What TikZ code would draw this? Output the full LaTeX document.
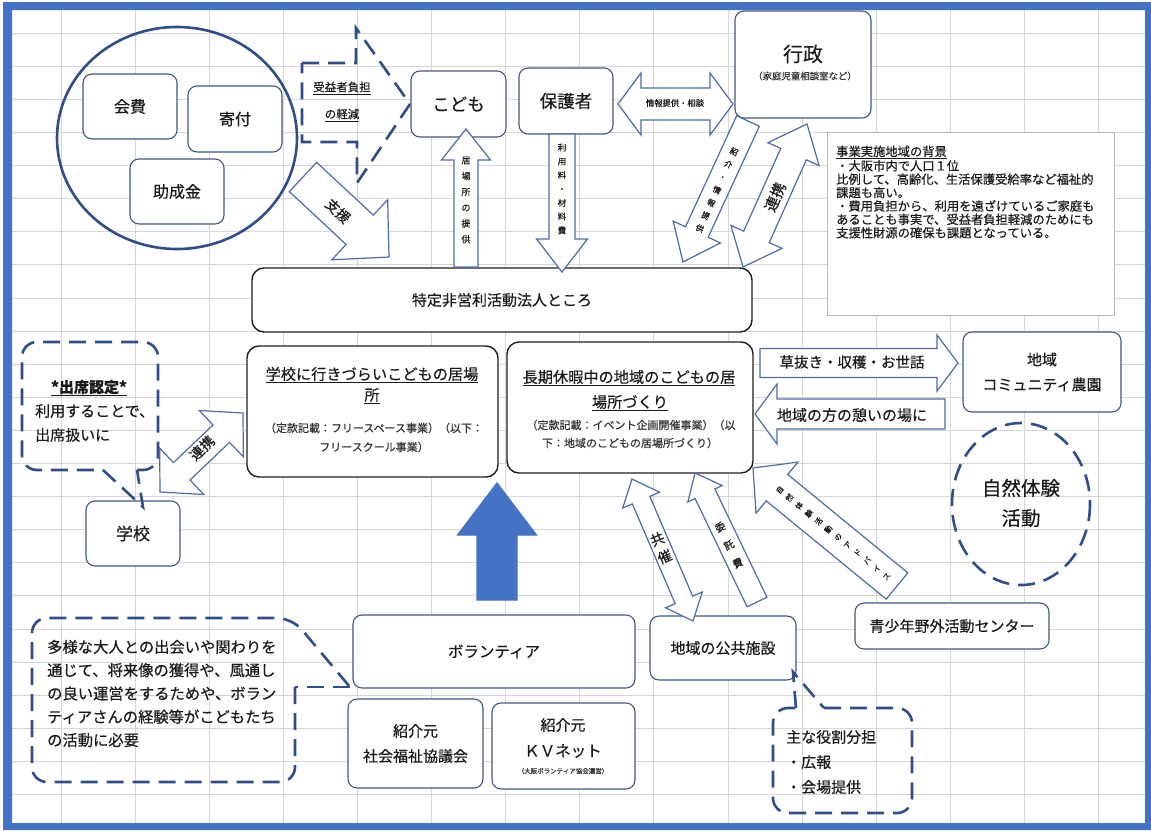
\documentclass[tikz,border=0pt]{standalone}
\usepackage{fontspec}
\setmainfont{Noto Sans CJK JP}[FakeBold=0.35]
\usetikzlibrary{calc}
\definecolor{frameblue}{HTML}{4472C4}
\definecolor{gridc}{HTML}{D6D6D6}
\definecolor{boxline}{HTML}{41587E}
\definecolor{arrline}{HTML}{4D6CA6}
\definecolor{dashc}{HTML}{2F4D8A}
\definecolor{txtc}{HTML}{1A1A1A}
\definecolor{subtxt}{HTML}{333333}
\newcommand\fsz[2]{\fontsize{#1}{#2}\selectfont}
\tikzset{
 rbox/.style={draw=boxline, line width=1.1pt, fill=white, rounded corners=9pt, inner sep=0pt, text=txtc},
 kbox/.style={draw=black!88, line width=1.4pt, fill=white, rounded corners=12pt, inner sep=0pt, text=txtc},
 blockarrow/.style={draw=arrline, line width=1.2pt, fill=white},
 dashline/.style={draw=dashc, line width=2.6pt, dash pattern=on 17pt off 9pt},
 txt/.style={inner sep=0pt, text=txtc},
 gridline/.style={gridc, line width=0.8pt},
}
% single block arrow: [opts]{from}{to}{body half width}{head half width}{head length}
\newcommand\sarrow[6][]{%
  \coordinate (sah) at ($(#3)!#6!(#2)$);
  \draw[blockarrow,#1] ($(#2)!#4!90:(#3)$) -- ($(sah)!#4!90:(#3)$) -- ($(sah)!#5!90:(#3)$) -- (#3)
    -- ($(sah)!#5!-90:(#3)$) -- ($(sah)!#4!-90:(#3)$) -- ($(#2)!#4!-90:(#3)$) -- cycle;}
% double block arrow
\newcommand\darrow[6][]{%
  \coordinate (dah1) at ($(#2)!#6!(#3)$);
  \coordinate (dah2) at ($(#3)!#6!(#2)$);
  \draw[blockarrow,#1] (#2) -- ($(dah1)!#5!90:(#3)$) -- ($(dah1)!#4!90:(#3)$) -- ($(dah2)!#4!90:(#3)$)
    -- ($(dah2)!#5!90:(#3)$) -- (#3) -- ($(dah2)!#5!-90:(#3)$) -- ($(dah2)!#4!-90:(#3)$)
    -- ($(dah1)!#4!-90:(#3)$) -- ($(dah1)!#5!-90:(#3)$) -- cycle;}
\begin{document}
\begin{tikzpicture}[x=1pt,y=-1pt]
\useasboundingbox (0,0) rectangle (1151,830);
\fill[white] (0,0) rectangle (1151,830);
% grid
\foreach \k in {0,...,14} \draw[gridline] ({61+74.1*\k},10) -- ({61+74.1*\k},823);
\foreach \k in {1,...,24} \draw[gridline] (12,{33.1*\k}) -- (1145,{33.1*\k});

% funding circle
\draw[draw=dashc, line width=2.6pt] (177,138) ellipse [x radius=120, y radius=111];
\node[rbox, minimum width=94pt, minimum height=65pt, font=\fsz{16}{19}] (kaihi) at (130,106.5) {会費};
\node[rbox, minimum width=94pt, minimum height=66pt, font=\fsz{16}{19}] (kifu) at (235,119) {寄付};
\node[rbox, minimum width=94pt, minimum height=65pt, font=\fsz{16}{19}] (joseikin) at (177,191.5) {助成金};

% dashed arrow
\draw[dashline] (302,63) -- (356,63) -- (356,28) -- (410,104) -- (357,183) -- (357,142) -- (302,142) -- cycle;
\node[txt, font=\fsz{11.5}{14}] (jueki1) at (342,88) {\underline{受益者負担}};
\node[txt, font=\fsz{11.5}{14}] (jueki2) at (342,115) {\underline{の軽減}};

% top boxes
\node[rbox, minimum width=95pt, minimum height=66pt, font=\fsz{17.5}{20}] (kodomo) at (458.5,104) {こども};
\node[rbox, minimum width=94pt, minimum height=66pt, font=\fsz{17.5}{20}] (hogosha) at (566,101) {保護者};
\node[rbox, minimum width=136pt, minimum height=107pt] (gyosei) at (803,64.5) {};
\node[txt, font=\fsz{20}{22}] (gyoseiT) at (803,54) {行政};
\node[txt, text=subtxt, font=\fsz{9.4}{11}] (gyoseiS) at (805,76) {（家庭児童相談室など）};

% background text box
\node[draw=black!28, line width=0.8pt, fill=white, minimum width=287pt, minimum height=183pt, inner sep=0pt] (haikei) at (970.5,223.5) {};
\node[txt, anchor=north west, align=left, font=\fsz{12.3}{13.4}] (haikeiT) at (836,145.5)
 {\underline{事業実施地域の背景}\\・大阪市内で人口１位\\比例して、高齢化、生活保護受給率など福祉的\\課題も高い。\\・費用負担から、利用を遠ざけているご家庭も\\あることも事実で、受益者負担軽減のためにも\\支援性財源の確保も課題となっている。};

% NPO box
\node[kbox, minimum width=500pt, minimum height=64pt, font=\fsz{15}{18}] (tokutei) at (502,300) {特定非営利活動法人ところ};

% program boxes
\node[kbox, minimum width=251pt, minimum height=131pt] (gakkoib) at (372.5,411.5) {};
\node[txt, font=\fsz{15.2}{18}] (gi1) at (372,375) {\underline{学校に行きづらいこどもの居場}};
\node[txt, font=\fsz{15.2}{18}] (gi2) at (372,396) {\underline{所}};
\node[txt, text=subtxt, font=\fsz{11}{13}] (gi3) at (374,428) {（定款記載：フリースペース事業）（以下：};
\node[txt, text=subtxt, font=\fsz{11}{13}] (gi4) at (374,447) {フリースクール事業）};

\node[kbox, minimum width=246pt, minimum height=131pt] (choki) at (630,407.5) {};
\node[txt, font=\fsz{15.2}{18}] (ch1) at (629,378) {\underline{長期休暇中の地域のこどもの居}};
\node[txt, font=\fsz{15.2}{18}] (ch2) at (630,403) {\underline{場所づくり}};
\node[txt, text=subtxt, font=\fsz{11}{13}] (ch3) at (631,425) {（定款記載：イベント企画開催事業）（以};
\node[txt, text=subtxt, font=\fsz{11}{13}] (ch4) at (630,443) {下：地域のこどもの居場所づくり）};

% right side
\node[rbox, minimum width=158pt, minimum height=80pt, align=center, font=\fsz{15}{25}] (nouen) at (1042,372) {地域\\コミュニティ農園};
\draw[dashline] (1021,504) ellipse [x radius=69, y radius=81];
\node[txt, align=center, font=\fsz{19.5}{30}] (shizen) at (1021,503) {自然体験\\活動};
\node[rbox, minimum width=194pt, minimum height=46pt, font=\fsz{15}{18}] (seishonen) at (952,626) {青少年野外活動センター};

% left school
\node[rbox, minimum width=94pt, minimum height=65pt, font=\fsz{17}{20}] (gakko) at (133,533.5) {学校};

% bottom boxes
\node[rbox, minimum width=282pt, minimum height=73pt, font=\fsz{15.5}{18}] (volunteer) at (494,651.5) {ボランティア};
\node[rbox, minimum width=135pt, minimum height=89pt, align=center, font=\fsz{15}{25}] (shakyo) at (415.5,743.5) {紹介元\\社会福祉協議会};
\node[rbox, minimum width=143pt, minimum height=86pt] (kvnet) at (563.5,746) {};
\node[txt, font=\fsz{15}{18}] (kv1) at (563,725) {紹介元};
\node[txt, font=\fsz{15.5}{18}] (kv2) at (563,751) {ＫＶネット};
\node[txt, text=subtxt, font=\fsz{6.5}{8}] (kv3) at (563,771) {（大阪ボランティア協会運営）};
\node[rbox, minimum width=146pt, minimum height=64pt, font=\fsz{15}{18}] (koukyou) at (723,648) {地域の公共施設};

% callouts
\draw[dashline, rounded corners=15pt] (137,470) -- (158,470) -- (158,342) -- (22,342) -- (22,470) -- (103,470);
\draw[dashline] (103,470) -- (143,507) -- (137,470);
\node[txt, font=\bfseries\fsz{15}{18}] (shu1) at (89,388) {\underline{*出席認定*}};
\node[txt, anchor=west, align=left, font=\fsz{15}{24}] (shu2) at (35,423) {利用することで、\\出席扱いに};

\draw[dashline, rounded corners=15pt] (295,687) -- (295,782) -- (32,782) -- (32,618) -- (292,618) -- (350,687);
\draw[dashline] (350,687) -- (295,687);
\node[txt, anchor=west, align=left, font=\fsz{15.3}{23.3}] (tayou) at (47,693.5)
 {多様な大人との出会いや関わりを\\通じて、将来像の獲得や、風通し\\の良い運営をするためや、ボラン\\ティアさんの経験等がこどもたち\\の活動に必要};

\draw[dashline, rounded corners=15pt] (824,708) -- (912,708) -- (912,813) -- (773,813) -- (773,708) -- (796,708);
\draw[dashline] (796,708) -- (793,672) -- (824,708);
\node[txt, anchor=west, align=left, font=\fsz{15}{25}] (omona) at (786,762) {主な役割分担\\・広報\\・会場提供};

% block arrows
\coordinate (shA) at (303,177); \coordinate (shB) at (389,257);
\sarrow{shA}{shB}{20pt}{41pt}{40pt}
\node[txt, rotate=-43, font=\fsz{14}{16}] (shienT) at (338,211) {支援};

\coordinate (ibA) at (466,267); \coordinate (ibB) at (466,129);
\sarrow{ibA}{ibB}{12pt}{24.5pt}{31pt}
\node[txt, align=center, font=\fsz{9}{15.8}] (ibT) at (466,200) {居\\場\\所\\の\\提\\供};

\coordinate (ryA) at (562,134); \coordinate (ryB) at (562,272);
\sarrow{ryA}{ryB}{13pt}{25.5pt}{33pt}
\node[txt, align=center, font=\fsz{8.5}{13.8}] (ryT) at (562,189) {利\\用\\料\\・\\材\\料\\費};

\coordinate (jhA) at (618,104); \coordinate (jhB) at (733,104);
\darrow{jhA}{jhB}{16pt}{31pt}{23pt}
\node[txt, font=\fsz{8.3}{10}] (jhT) at (675,103) {情報提供・相談};

\coordinate (shoA) at (748,121); \coordinate (shoB) at (683,262);
\sarrow{shoA}{shoB}{12.5pt}{26pt}{33pt}
\node[txt, rotate=-24, align=center, font=\fsz{8}{14}] (shoT) at (717,190) {紹\\介\\・\\情\\報\\提\\供};

\coordinate (rkA) at (743,267); \coordinate (rkB) at (807,124);
\darrow{rkA}{rkB}{14pt}{28pt}{33pt}
\node[txt, rotate=66, font=\fsz{15}{18}] (rkT) at (775,197) {連携};

\coordinate (kuA) at (760,363); \coordinate (kuB) at (958,363);
\sarrow{kuA}{kuB}{14.5pt}{28pt}{21pt}
\node[txt, font=\fsz{14.5}{17}] (kuT) at (852,362) {草抜き・収穫・お世話};

\coordinate (chA) at (945,414); \coordinate (chB) at (755,414);
\sarrow{chA}{chB}{15pt}{30pt}{22pt}
\node[txt, font=\fsz{15}{18}] (chT) at (852,415) {地域の方の憩いの場に};

\coordinate (adA) at (897,586); \coordinate (adB) at (753,468);
\sarrow{adA}{adB}{17pt}{33pt}{31pt}
\node[txt, rotate=51, align=center, font=\fsz{7.5}{12.5}] (adT) at (833,533) {自\\然\\体\\験\\活\\動\\の\\ア\\ド\\バ\\イ\\ス};

\coordinate (itA) at (757,602); \coordinate (itB) at (695,473);
\sarrow{itA}{itB}{11pt}{19pt}{23pt}
\node[txt, rotate=26, align=center, font=\fsz{10}{20}] (itT) at (729,545) {委\\託\\費};

\coordinate (kyA) at (632,479); \coordinate (kyB) at (693,621);
\darrow{kyA}{kyB}{9.5pt}{20pt}{23pt}
\node[txt, rotate=23, align=center, font=\fsz{14}{19}] (kyT) at (661,548) {共\\催};

\coordinate (gkA) at (160,492); \coordinate (gkB) at (243,413);
\darrow{gkA}{gkB}{12pt}{32pt}{30pt}
\node[txt, rotate=44, font=\fsz{14}{16}] (gkT) at (202,448) {連携};

\coordinate (blA) at (497,600); \coordinate (blB) at (497,483);
\sarrow[fill=frameblue, draw=frameblue]{blA}{blB}{20pt}{39.5pt}{52pt}

% frame
\fill[frameblue, even odd rule] (3,2) rectangle (1151,830) (12,10) rectangle (1145,823);
\end{tikzpicture}
\end{document}
